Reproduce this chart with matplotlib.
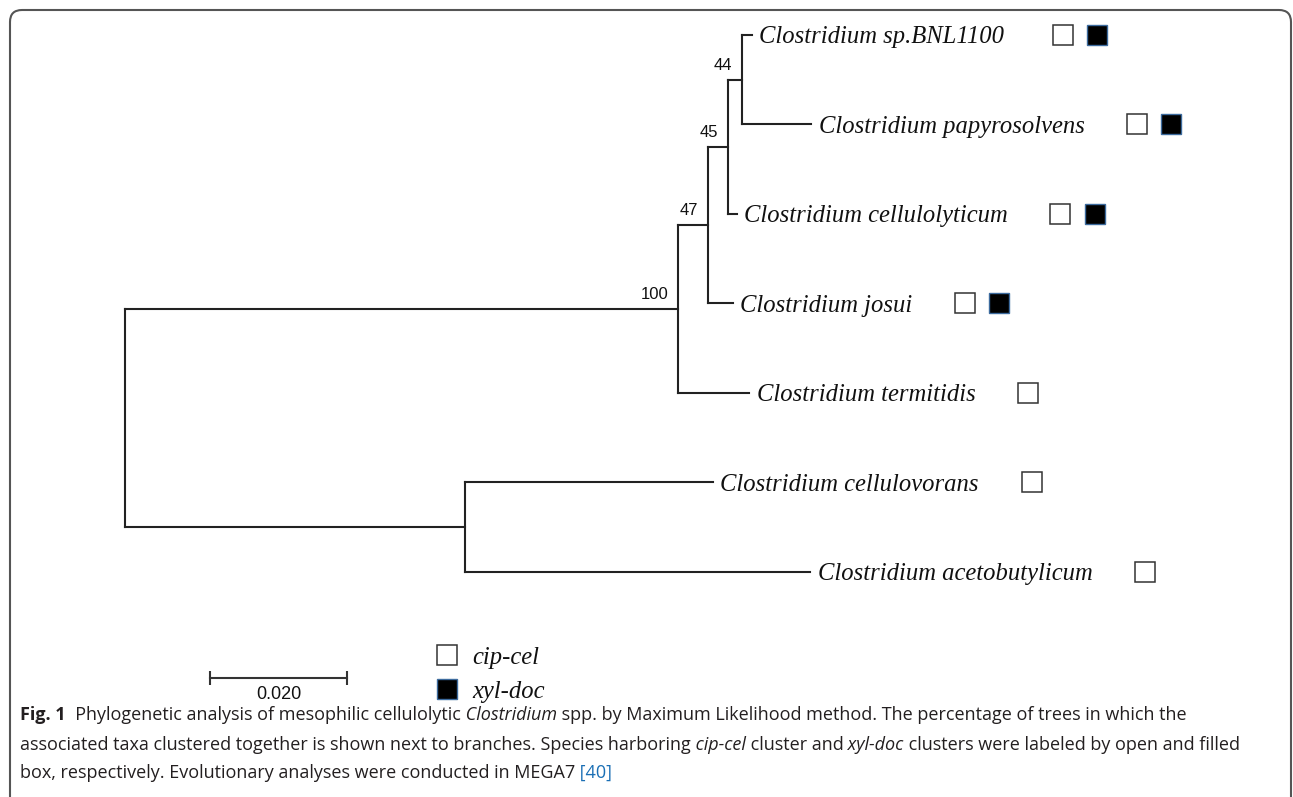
import matplotlib
matplotlib.use('Agg')
import matplotlib.pyplot as plt
from matplotlib.patches import FancyBboxPatch
from matplotlib.transforms import IdentityTransform

# tree data: each edge parent -> child with its branch length (substitutions per site)
taxa = ['Clostridium sp.BNL1100', 'Clostridium papyrosolvens', 'Clostridium cellulolyticum',
        'Clostridium josui', 'Clostridium termitidis', 'Clostridium cellulovorans',
        'Clostridium acetobutylicum']
parents = ['root', 'root', 'n100', 'n100', 'n47', 'n47', 'n45', 'n45', 'n44', 'n44', 'nCV', 'nCV']
children = ['n100', 'nCV', 'n47', taxa[4], 'n45', taxa[3], 'n44', taxa[2], taxa[0], taxa[1],
            taxa[5], taxa[6]]
lengths = [0.0807, 0.0496, 0.0044, 0.0104, 0.0029, 0.0036, 0.0020, 0.0013, 0.0015, 0.0102,
           0.0362, 0.0504]
bootstrap_nodes = ['n100', 'n47', 'n45', 'n44']
bootstrap_values = [100, 47, 45, 44]
has_cip_cel = [True, True, True, True, True, True, True]
has_xyl_doc = [True, True, True, True, False, False, False]
scale_length = 0.020

# where the gene-cluster boxes sit (tree units)
cip_box_x = [0.1369, 0.1477, 0.1365, 0.1226, 0.1318, 0.1324, 0.1489]
xyl_box_x = [0.1419, 0.1527, 0.1416, 0.1276, None, None, None]

line_kw = dict(color='#222222', lw=1.5, solid_capstyle='projecting')
label_font = dict(family='Liberation Serif', style='italic', fontsize=17.7, color='#111111')
num_font = dict(family='Liberation Sans', fontsize=12, color='#111111')
open_box = dict(marker='s', ms=14, mfc='white', mec='#333333', mew=1.1, ls='none')
filled_box = dict(marker='s', ms=14, mfc='black', mec='#3d6b9e', mew=1.0, ls='none')

# node coordinates
node_x = {'root': 0.0}
for p, c, l in zip(parents, children, lengths):
    node_x[c] = node_x[p] + l
node_y = {t: i for i, t in enumerate(taxa)}
internal = list(dict.fromkeys(parents))
for n in reversed(internal):
    ys = [node_y[c] for p, c in zip(parents, children) if p == n]
    node_y[n] = (min(ys) + max(ys)) / 2

fig = plt.figure(figsize=(12.93, 7.97), dpi=100)
ax = fig.add_axes([0, 0, 1, 1])
ax.set_xlim(-0.01825, 0.17051)
ax.set_ylim(8.514, -0.391)
ax.axis('off')

for n in internal:
    ys = [node_y[c] for p, c in zip(parents, children) if p == n]
    ax.plot([node_x[n], node_x[n]], [min(ys), max(ys)], **line_kw)
for p, c in zip(parents, children):
    ax.plot([node_x[p], node_x[c]], [node_y[c], node_y[c]], **line_kw)

for i, t in enumerate(taxa):
    ax.annotate(t, (node_x[t], node_y[t]), xytext=(5.5, -6), textcoords='offset points',
                va='baseline', **label_font)
    if has_cip_cel[i]:
        ax.plot(cip_box_x[i], i, **open_box)
    if has_xyl_doc[i]:
        ax.plot(xyl_box_x[i], i, **filled_box)

for n, v in zip(bootstrap_nodes, bootstrap_values):
    ax.annotate(str(v), (node_x[n], node_y[n]), xytext=(-7, 10.5), textcoords='offset points',
                ha='right', va='center', **num_font)

# scale bar
sb_x, sb_y = 0.0124, 7.184
ax.plot([sb_x, sb_x + scale_length], [sb_y, sb_y], color='#333333', lw=1.5,
        marker='|', ms=10, mew=1.5)
ax.annotate('%.3f' % scale_length, (sb_x + scale_length / 2, sb_y), xytext=(0, -12),
            textcoords='offset points', ha='center', va='center',
            family='Liberation Sans', fontsize=13, color='#111111')

# legend
ax.plot(0.0470, 6.93, **open_box)
ax.plot(0.0470, 7.31, **filled_box)
ax.annotate('cip-cel', (0.0507, 6.93), xytext=(0, -6), textcoords='offset points',
            va='baseline', **label_font)
ax.annotate('xyl-doc', (0.0507, 7.31), xytext=(0, -6), textcoords='offset points',
            va='baseline', **label_font)

# caption, built from pieces with different styles
cap = dict(family='Open Sans', fontsize=13.0, color='#231f20')
caption = [
    [('Fig. 1', 'bold'), ('  Phylogenetic analysis of mesophilic cellulolytic', ''),
     (' Clostridium', 'italic'),
     (' spp. by Maximum Likelihood method. The percentage of trees in which the', '')],
    [('associated taxa clustered together is shown next to branches. Species harboring', ''),
     (' cip-cel', 'italic'), (' cluster and', ''), (' xyl-doc', 'italic'),
     (' clusters were labeled by open and filled', '')],
    [('box, respectively. Evolutionary analyses were conducted in MEGA7', ''),
     (' [40]', 'link')],
]
line_bottoms = [0.0912, 0.0540, 0.0190]
for line, yb in zip(caption, line_bottoms):
    prev = None
    for txt, kind in line:
        kw = dict(cap)
        if kind == 'bold':
            kw['weight'] = 'bold'
        elif kind == 'italic':
            kw['style'] = 'italic'
        elif kind == 'link':
            kw['color'] = '#1a6fb5'
        if prev is None:
            prev = ax.annotate(txt, (0.0155, yb), xycoords='figure fraction', va='bottom', **kw)
        else:
            prev = ax.annotate(txt, (1, 0), xycoords=prev, va='bottom', **kw)

# rounded frame around the figure panel
frame = FancyBboxPatch((10, -50), 1281, 837, boxstyle='round,pad=0,rounding_size=12',
                       transform=IdentityTransform(), fill=False, ec='#555555', lw=1.5)
fig.add_artist(frame)

fig.savefig('out.png', dpi=100)
